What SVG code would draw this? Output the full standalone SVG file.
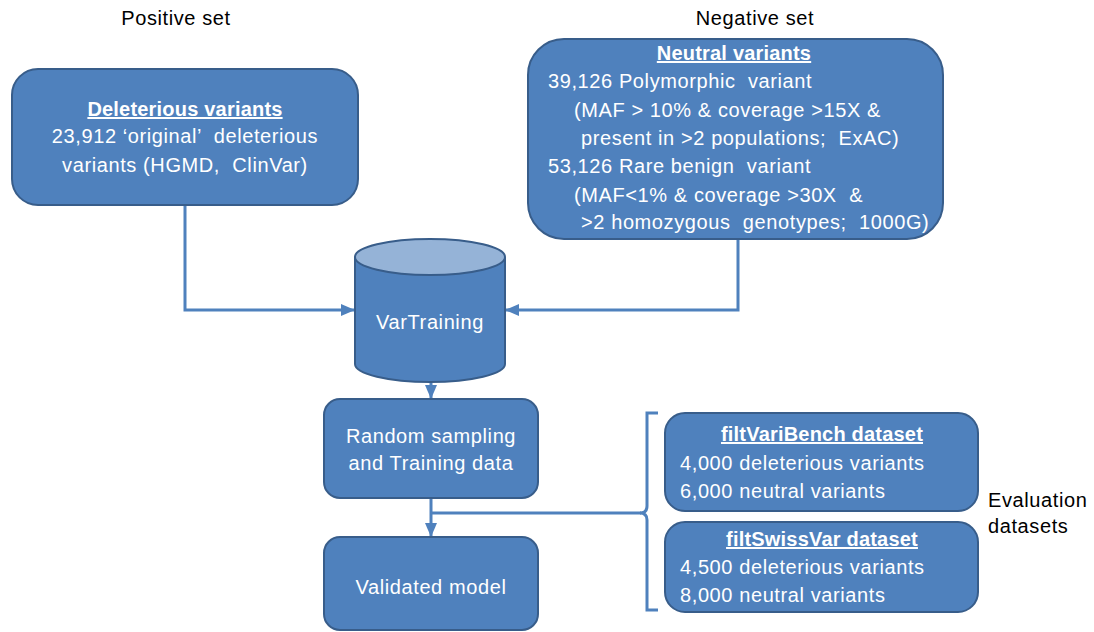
<svg xmlns="http://www.w3.org/2000/svg" width="1094" height="632" viewBox="0 0 1094 632">
<defs>
<style>
.box{fill:#4F81BD;stroke:#385D8A;stroke-width:2}
.t{font-family:"Liberation Sans",Arial,sans-serif;font-size:20px;letter-spacing:0.6px;fill:#fff}
.h{font-weight:bold;text-decoration:underline;letter-spacing:0.2px}
.k{font-family:"Liberation Sans",Arial,sans-serif;font-size:20px;letter-spacing:0.6px;fill:#000}
.c{fill:none;stroke:#4F81BD;stroke-width:3}
</style>
<marker id="ah" markerUnits="userSpaceOnUse" markerWidth="14" markerHeight="14" viewBox="0 0 14 14" refX="13" refY="7" orient="auto">
<path d="M0,1 L14,7 L0,13 Z" fill="#4F81BD"/>
</marker>
</defs>
<rect width="1094" height="632" fill="#fff"/>
<text class="k" x="176" y="25" text-anchor="middle">Positive set</text>
<text class="k" x="755" y="25" text-anchor="middle">Negative set</text>
<g id="connectors">
<path class="c" d="M185 205 V310 H354" marker-end="url(#ah)"/>
<path class="c" d="M738 239 V310 H506" marker-end="url(#ah)"/>
<path class="c" d="M431 383 V398" marker-end="url(#ah)"/>
<path class="c" d="M431 499 V536" marker-end="url(#ah)"/>
<path class="c" d="M431 513 H641"/>
<path class="c" d="M658 413 H647 V506 Q647 513 640 513 Q647 513 647 520 V610 H658" stroke-width="2.5"/>
</g>
<g id="deleterious">
<rect class="box" x="12" y="69" width="346" height="136" rx="26"/>
<text class="t h" x="185" y="116" text-anchor="middle">Deleterious variants</text>
<text class="t" x="185" y="143" text-anchor="middle" xml:space="preserve">23,912 ‘original’  deleterious</text>
<text class="t" x="185" y="172" text-anchor="middle" xml:space="preserve">variants (HGMD,  ClinVar)</text>
</g>
<g id="neutral">
<rect class="box" x="528" y="39" width="415" height="200" rx="36"/>
<text class="t h" x="734" y="60" text-anchor="middle">Neutral variants</text>
<text class="t" x="548" y="88" xml:space="preserve">39,126 Polymorphic  variant</text>
<text class="t" x="574" y="117" xml:space="preserve">(MAF &gt; 10% &amp; coverage &gt;15X &amp;</text>
<text class="t" x="581" y="145" xml:space="preserve">present in &gt;2 populations;  ExAC)</text>
<text class="t" x="548" y="173" xml:space="preserve">53,126 Rare benign  variant</text>
<text class="t" x="574" y="202" xml:space="preserve">(MAF&lt;1% &amp; coverage &gt;30X  &amp;</text>
<text class="t" x="581" y="229" xml:space="preserve">&gt;2 homozygous  genotypes;  1000G)</text>
</g>
<g id="vartraining">
<path class="box" d="M355 257 V364 A75 18 0 0 0 505 364 V257"/>
<ellipse cx="430" cy="257" rx="75" ry="18" fill="#95B3D7" stroke="#385D8A" stroke-width="2"/>
<text class="t" x="430" y="329" text-anchor="middle">VarTraining</text>
</g>
<g id="random">
<rect class="box" x="324" y="399" width="214" height="99" rx="16"/>
<text class="t" x="431" y="443" text-anchor="middle">Random sampling</text>
<text class="t" x="431" y="470" text-anchor="middle">and Training data</text>
</g>
<g id="validated">
<rect class="box" x="324" y="537" width="214" height="93" rx="16"/>
<text class="t" x="431" y="594" text-anchor="middle">Validated model</text>
</g>
<g id="filtvaribench">
<rect class="box" x="665" y="413" width="313" height="98" rx="20"/>
<text class="t h" x="822" y="441" text-anchor="middle">filtVariBench dataset</text>
<text class="t" x="680" y="470">4,000 deleterious variants</text>
<text class="t" x="680" y="498">6,000 neutral variants</text>
</g>
<g id="filtswissvar">
<rect class="box" x="665" y="522" width="313" height="90" rx="20"/>
<text class="t h" x="822" y="546" text-anchor="middle">filtSwissVar dataset</text>
<text class="t" x="680" y="574">4,500 deleterious variants</text>
<text class="t" x="680" y="602">8,000 neutral variants</text>
</g>
<g id="evaluation">
<text class="k" x="988" y="507">Evaluation</text>
<text class="k" x="988" y="533">datasets</text>
</g>
</svg>
